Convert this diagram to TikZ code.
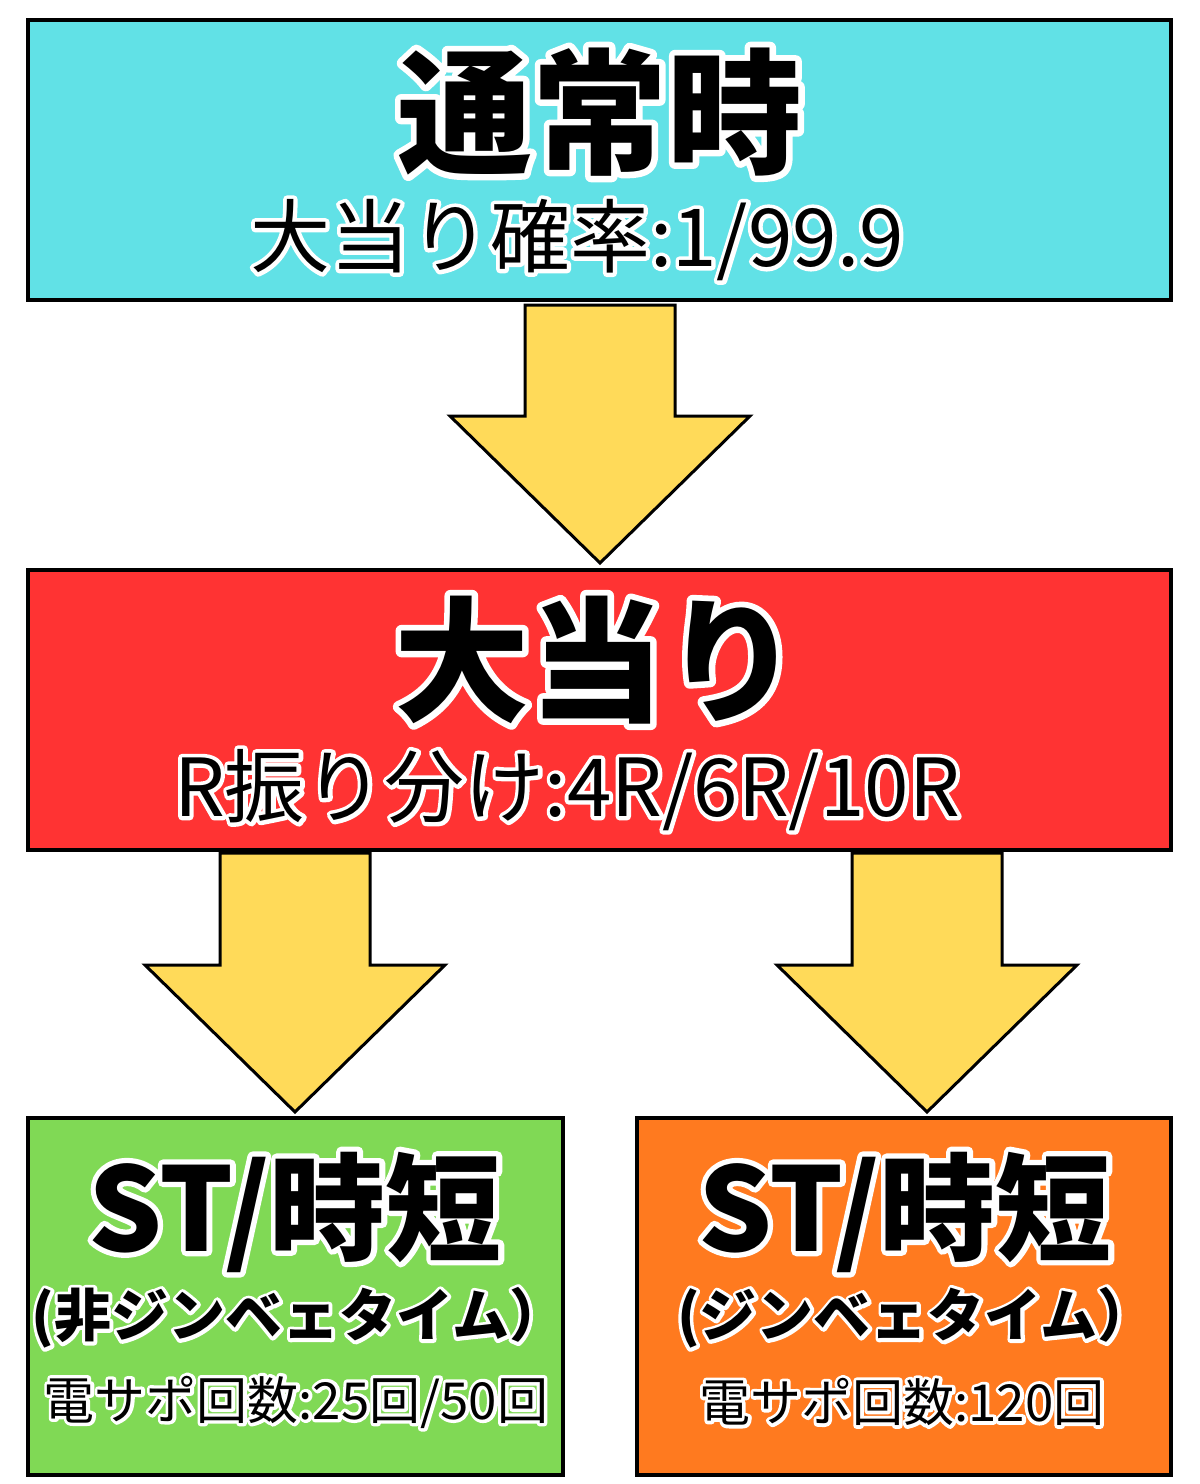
\documentclass[tikz,border=0pt]{standalone}
\usepackage{fontspec}
\newfontfamily\jp{Noto Sans CJK JP}
\definecolor{cyanc}{HTML}{61E1E6}
\definecolor{redc}{HTML}{FF3333}
\definecolor{greenc}{HTML}{80D955}
\definecolor{orangec}{HTML}{FF7A1F}
\definecolor{yelc}{HTML}{FFDA59}
\tikzset{
  box/.style={draw=black,line width=4pt,inner sep=0pt},
  barrow/.style={draw=black,line width=3pt,fill=yelc,line join=miter},
  txt/.style={inner sep=0pt,text=black},
}
% white outlined text: stroke amount (percent of size), text
\newcommand\outl[2]{%
  \rlap{\special{pdf:code 1 j 1 J}\color{white}\addfontfeature{FakeBold=#1}#2}#2}
% block arrow: centre x, top y, head y, tip y, half shaft, half head
\newcommand\blockarrow[6]{%
  \draw[barrow] (#1-#5,#2) -- (#1+#5,#2) -- (#1+#5,#3) -- (#1+#6,#3) -- (#1,#4)
    -- (#1-#6,#3) -- (#1-#5,#3) -- cycle;}
\begin{document}
\begin{tikzpicture}[x=1pt,y=-1pt]
\useasboundingbox (0,0) rectangle (1200,1484);
\fill[white] (0,0) rectangle (1200,1484);
% boxes
\node[box,fill=cyanc,minimum width=1143pt,minimum height=280pt] (normal) at (599.5,160) {};
\node[box,fill=redc,minimum width=1143pt,minimum height=280pt] (hit) at (599.5,710) {};
\node[box,fill=greenc,minimum width=535pt,minimum height=357pt] (stl) at (295.5,1296.5) {};
\node[box,fill=orangec,minimum width=534pt,minimum height=357pt] (str) at (904,1296.5) {};
% arrows
\blockarrow{600}{305}{416}{563}{75}{150}
\blockarrow{295}{853}{965}{1112}{75}{150}
\blockarrow{927}{853}{965}{1112}{75}{150}
% texts
\node[txt,font=\jp\bfseries\fontsize{135pt}{135pt}\selectfont] (t1) at (600,112) {\outl{9}{通常時}};
\node[txt,font=\jp\fontsize{80pt}{80pt}\selectfont] (t2) at (577,240) {\outl{10}{大当り確率:1/99.9}};
\node[txt,font=\jp\bfseries\fontsize{135pt}{135pt}\selectfont] (t3) at (597,660) {\outl{9}{大当り}};
\node[txt,font=\jp\fontsize{80pt}{80pt}\selectfont] (t4) at (567,790) {\outl{10}{R振り分け:4R/6R/10R}};
\node[txt,font=\jp\bfseries\fontsize{116pt}{116pt}\selectfont] (t5) at (295,1212) {\outl{9}{ST/時短}};
\node[txt,font=\jp\bfseries\fontsize{57pt}{57pt}\selectfont] (t6) at (299,1318) {\outl{12}{(非ジンベェタイム）}};
\node[txt,font=\jp\fontsize{51pt}{51pt}\selectfont] (t7) at (296,1402) {\outl{13}{電サポ回数:25回/50回}};
\node[txt,font=\jp\bfseries\fontsize{116pt}{116pt}\selectfont] (t8) at (905,1212) {\outl{9}{ST/時短}};
\node[txt,font=\jp\bfseries\fontsize{57pt}{57pt}\selectfont] (t9) at (916,1318) {\outl{12}{(ジンベェタイム）}};
\node[txt,font=\jp\fontsize{51pt}{51pt}\selectfont] (t10) at (902,1402) {\outl{13}{電サポ回数:120回}};
\end{tikzpicture}
\end{document}
